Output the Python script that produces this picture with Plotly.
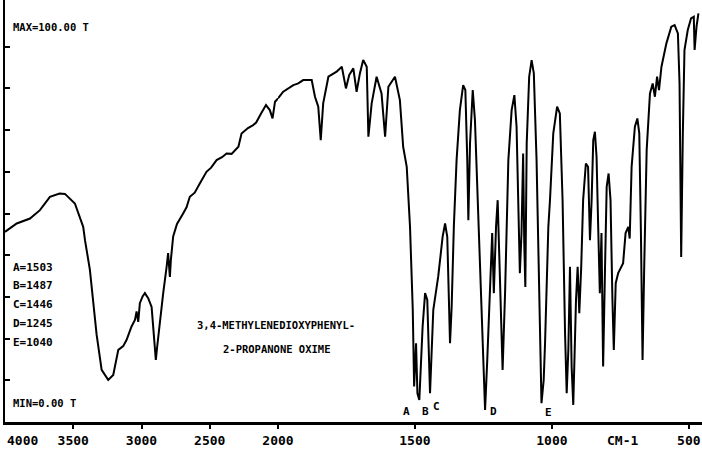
import plotly.graph_objects as go

# IR spectrum: wavenumber (cm-1) and transmittance (%T)
wavenumber = [
    4000, 3914, 3817, 3744, 3671, 3600, 3561, 3488, 3427, 3414, 3378, 3329, 3292,
    3244, 3207, 3182, 3170, 3134, 3109, 3073, 3048, 3036, 3024, 3012, 2992, 2975,
    2951, 2926, 2909, 2895, 2885, 2865, 2841, 2816, 2805, 2792, 2785, 2768, 2740,
    2695, 2670, 2646, 2610, 2573, 2524, 2490, 2450, 2410, 2377, 2340, 2316, 2290,
    2267, 2220, 2182, 2160, 2124, 2088, 2060, 2040, 2022, 2000,
    1981, 1944, 1926, 1908, 1877, 1865, 1853, 1844, 1835, 1816, 1786, 1767, 1752,
    1740, 1725, 1713, 1701, 1689, 1676, 1670, 1658, 1640, 1622, 1609, 1597, 1573,
    1555, 1543, 1538, 1530, 1518, 1508, 1503, 1496, 1491, 1484, 1472, 1463, 1455,
    1445, 1433, 1415, 1399, 1390, 1382, 1375, 1372, 1366, 1358, 1348, 1336, 1324,
    1316, 1309, 1305, 1299, 1289, 1281, 1269, 1256, 1244, 1236, 1226, 1218, 1212,
    1204, 1198, 1192, 1183, 1180, 1171, 1159, 1147, 1137, 1129, 1123, 1117, 1111,
    1105, 1101, 1097, 1092, 1083, 1074, 1066, 1056, 1046, 1038, 1030, 1025, 1013,
    1007, 995, 981, 971, 961, 952, 946, 940, 934, 928, 922, 912, 906, 900, 893,
    886, 876, 868, 861, 855, 849, 843, 837, 831, 825, 819, 813, 806, 800, 793,
    786, 779, 774, 767, 758, 740, 731, 721, 716, 709, 697, 688, 681, 675, 669,
    663, 654, 642, 632, 624, 616, 609, 600, 582, 564, 552, 540, 534, 531, 528,
    522, 516, 504, 492, 482, 479, 472, 465,
]
transmittance = [
    45.6, 47.6, 48.8, 50.8, 54.0, 54.8, 54.7, 52.4, 46.8, 43.6, 36.5, 21.0, 12.5,
    10.1, 11.3, 14.9, 17.3, 18.2, 19.7, 22.9, 24.5, 26.5, 24.0, 28.5, 30.1, 30.9,
    29.7, 27.6, 21.3, 14.9, 18.1, 24.5, 30.9, 37.2, 40.5, 34.8, 38.8, 44.5, 47.5,
    50.0, 51.5, 54.0, 55.0, 57.2, 60.0, 61.0, 62.8, 63.5, 64.4, 64.3, 65.2, 66.0,
    69.2, 70.5, 71.2, 71.8, 74.0, 76.0, 74.8, 72.8, 76.8, 77.6,
    79.2, 80.8, 81.2, 82.0, 82.0, 78.0, 75.6, 67.6, 76.4, 82.8, 84.0, 85.2, 80.0,
    83.2, 84.8, 79.2, 83.6, 86.8, 85.2, 68.4, 76.4, 82.8, 78.8, 68.4, 80.4, 82.8,
    77.2, 66.0, 64.0, 61.2, 46.8, 26.9, 8.5, 18.9, 6.9, 5.3, 22.9, 30.9, 29.3,
    6.9, 26.9, 34.9, 44.4, 47.6, 44.4, 26.9, 18.9, 27.6, 46.8, 62.8, 74.8, 80.8,
    79.6, 62.8, 48.4, 66.8, 79.6, 72.4, 50.8, 22.9, 2.9, 14.9, 30.9, 45.3, 30.9,
    46.8, 53.2, 38.8, 18.9, 12.5, 30.9, 62.8, 74.8, 78.4, 70.8, 48.4, 35.7, 45.3,
    64.4, 42.9, 32.4, 66.8, 82.8, 86.8, 83.6, 62.8, 30.9, 4.5, 10.0, 18.9, 46.8,
    53.2, 69.2, 75.6, 74.0, 53.2, 21.3, 6.9, 17.3, 37.2, 13.3, 4.1, 29.3, 37.2, 26.1, 37.2,
    53.2, 62.0, 61.2, 43.6, 53.2, 67.6, 69.6, 63.6, 46.8, 30.9, 45.3, 13.3, 37.2, 56.4, 59.6,
    53.2, 29.3, 17.3, 33.3, 35.7, 38.1, 45.3, 46.8, 44.0, 61.2, 70.8, 72.8, 69.2, 45.3, 14.9,
    37.2, 65.2, 78.8, 81.2, 78.0, 82.8, 79.6, 85.2, 90.8, 94.8, 95.2, 93.2, 81.2, 53.2, 39.6,
    69.2, 89.2, 94.0, 96.8, 97.2, 89.2, 94.8, 98.0,
]

peak_labels = ["A=1503", "B=1487", "C=1446", "D=1245", "E=1040"]
peak_letters = ["A", "B", "C", "D", "E"]
peak_letter_pos = [1531, 1463, 1420, 1215, 1014]
peak_letter_t = [2.6, 2.6, 3.6, 2.6, 2.2]
title_lines = ["3,4-METHYLENEDIOXYPHENYL-", "2-PROPANONE OXIME"]
ticks_high = [3500, 3000, 2500, 2000]
ticks_low = [1500, 1000, 500]

# target picture geometry (pixels)
W, H = 702, 456
ML, MR, MT, MB = 5, 0, 0, 34
pw = W - ML - MR
ph = H - MT - MB
split = (278 - ML) / pw
y_top = 100 * ph / (ph - 5)   # 100 %T sits 5 px below the top of the axis line

hi_x = [w for w in wavenumber if w >= 2000]
hi_y = [t for w, t in zip(wavenumber, transmittance) if w >= 2000]
lo_x = [w for w in wavenumber if w <= 2000]
lo_y = [t for w, t in zip(wavenumber, transmittance) if w <= 2000]

line = dict(color="black", width=2)
fig = go.Figure()
fig.add_trace(go.Scatter(x=hi_x, y=hi_y, mode="lines", line=line, xaxis="x", yaxis="y",
                         hoverinfo="skip"))
fig.add_trace(go.Scatter(x=lo_x, y=lo_y, mode="lines", line=line, xaxis="x2", yaxis="y",
                         hoverinfo="skip"))

mono = "DejaVu Sans Mono"
tickfont = dict(family=mono, size=13, color="black", weight="bold")
common_x = dict(showgrid=False, zeroline=False, showline=True, linecolor="black",
                linewidth=3, ticks="outside", ticklen=4, tickwidth=2, tickcolor="black",
                tickfont=tickfont, anchor="y")

fig.update_layout(
    width=718, height=H, autosize=False,
    margin=dict(l=ML, r=MR, t=MT, b=MB, pad=0),
    paper_bgcolor="white", plot_bgcolor="white",
    showlegend=False,
    xaxis=dict(domain=[0, split], range=[4000, 2000], tickvals=ticks_high,
               ticktext=[str(v) for v in ticks_high], **common_x),
    xaxis2=dict(domain=[split, 1], range=[2000, 452], tickvals=ticks_low,
                ticktext=[str(v) for v in ticks_low], **common_x),
    yaxis=dict(range=[0, y_top], showgrid=False, zeroline=False, showline=True,
               linecolor="black", linewidth=2, ticks="inside", ticklen=5, tickwidth=2,
               tickcolor="black", tickvals=list(range(10, 100, 10)), showticklabels=False,
               anchor="x"),
)

ann_font = dict(family=mono, size=11, color="black", weight="bold")

def px_to_paper_x(px):
    return (px - ML) / pw

def px_to_paper_y(py):
    return (H - MB - py) / ph

annotations = [
    dict(text="MAX=100.00 T", x=px_to_paper_x(11), y=px_to_paper_y(27),
         font=dict(family=mono, size=10.5, color="black", weight="bold")),
    dict(text="MIN=0.00 T", x=px_to_paper_x(11), y=px_to_paper_y(403),
         font=dict(family=mono, size=10.5, color="black", weight="bold")),
]
for i, lab in enumerate(peak_labels):
    annotations.append(dict(text=lab, x=px_to_paper_x(11), y=px_to_paper_y(267 + 18.75 * i),
                            font=ann_font))
for a in annotations:
    a.update(xref="paper", yref="paper", xanchor="left", yanchor="middle", showarrow=False)

for i, t in enumerate(title_lines):
    annotations.append(dict(text=t, x=px_to_paper_x(276), y=px_to_paper_y(325 + 24 * i),
                            xref="paper", yref="paper", xanchor="center", yanchor="middle",
                            showarrow=False,
                            font=dict(family=mono, size=10.5, color="black", weight="bold")))

for letter, xv, tv in zip(peak_letters, peak_letter_pos, peak_letter_t):
    annotations.append(dict(text=letter, x=xv, y=tv, xref="x2", yref="y",
                            xanchor="center", yanchor="middle", showarrow=False,
                            font=ann_font))

annotations.append(dict(text="4000", x=0, y=px_to_paper_y(440), xref="paper", yref="paper",
                        xanchor="left", yanchor="middle", showarrow=False, font=tickfont))
annotations.append(dict(text="CM-1", x=741, y=px_to_paper_y(440), xref="x2", yref="paper",
                        xanchor="center", yanchor="middle", showarrow=False, font=tickfont))

fig.update_layout(annotations=annotations)
fig.write_html("out.html")
